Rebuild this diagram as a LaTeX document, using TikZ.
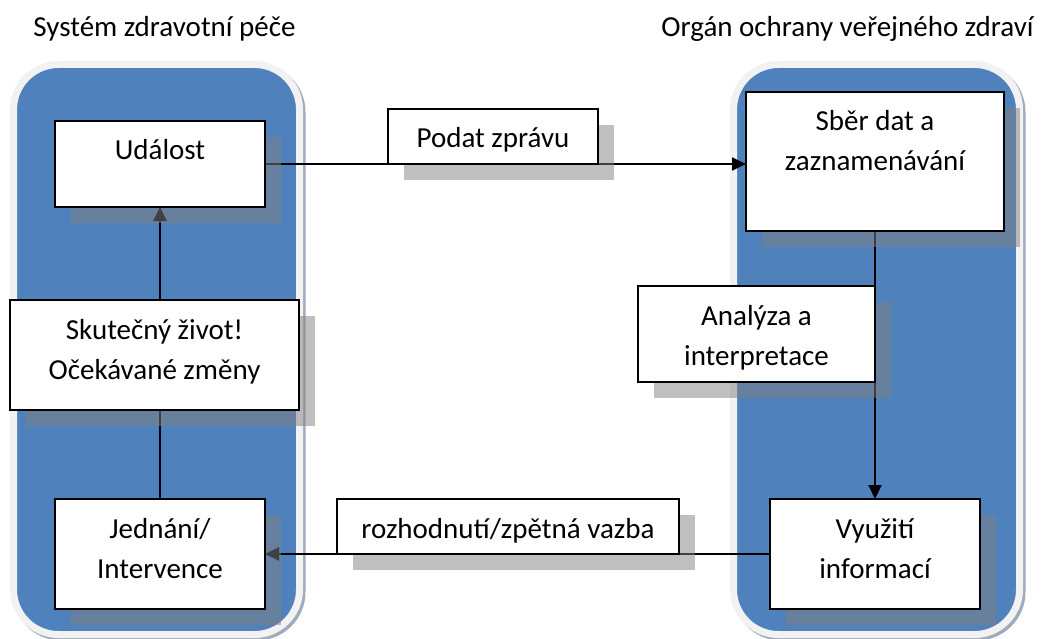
\documentclass[tikz,border=0pt]{standalone}
\usepackage{fontspec}
\setmainfont{Carlito}
\usetikzlibrary{shadows,arrows.meta}
\pgfdeclarelayer{panels}
\pgfdeclarelayer{links}
\pgfsetlayers{panels,links,main}
\definecolor{panelblue}{RGB}{79,129,189}
\definecolor{panelrim}{RGB}{242,242,242}
\definecolor{panelshade}{RGB}{160,170,192}
\newcommand\boxlines[3]{\parbox[c][#2][t]{#1}{\centering\rule{0pt}{39pt}#3}}
\tikzset{
  box/.style={draw=black, line width=1.3pt, fill=white, inner sep=0pt, outer sep=0pt,
    drop shadow={shadow xshift=16pt, shadow yshift=-16pt}},
  link/.style={line width=2pt, draw=black, -{Triangle[length=14pt,width=13pt]}},
  panel/.style={fill=panelblue, draw=panelrim, line width=7pt, rounded corners=45pt},
  panelshadow/.style={fill=panelshade, rounded corners=48.5pt},
  title/.style={anchor=base, inner sep=0pt}
}
\begin{document}
\begin{tikzpicture}[x=1pt,y=-1pt, font=\fontsize{29}{40}\selectfont]
\useasboundingbox (0,0) rectangle (1041,639);
\begin{pgfonlayer}{panels}
  \path[panelshadow] (12.5,63.5) rectangle (305.5,640.5);
  \path[panel] (13.5,64.5) rectangle (299.5,634.5);
  \path[panelshadow] (732.5,63.5) rectangle (1025.5,640.5);
  \path[panel] (733.5,64.5) rectangle (1019.5,634.5);
\end{pgfonlayer}
\node[title] (t1) at (164.5,37) {Systém zdravotní péče};
\node[title] (t2) at (847.5,37) {Orgán ochrany veřejného zdraví};
\node[box] (ud) at (160,164) {\boxlines{210pt}{86pt}{Událost}};
\node[box] (sk) at (154.5,355) {\boxlines{289pt}{110pt}{Skutečný život!\\Očekávané změny}};
\node[box] (jd) at (160,554) {\boxlines{210pt}{110pt}{Jednání/\\Intervence}};
\node[box] (sb) at (875,161.5) {\boxlines{258pt}{139pt}{Sběr dat a\\zaznamenávání}};
\node[box] (an) at (756.5,334) {\boxlines{237pt}{96pt}{Analýza a\\interpretace}};
\node[box] (vy) at (875,554) {\boxlines{210pt}{110pt}{Využití\\informací}};
\node[box] (pz) at (493,136.5) {\boxlines{210pt}{55pt}{Podat zprávu}};
\node[box] (rz) at (508,526.5) {\boxlines{342pt}{55pt}{rozhodnutí/zpětná vazba}};
\begin{pgfonlayer}{links}
  \draw[link] (ud.east) -- (ud.east -| sb.west);
  \draw[link] (sb.south) -- (vy.north);
  \draw[link] (vy.west) -- (jd.east);
  \draw[link] (jd.north) -- (ud.south);
\end{pgfonlayer}
\end{tikzpicture}
\end{document}
